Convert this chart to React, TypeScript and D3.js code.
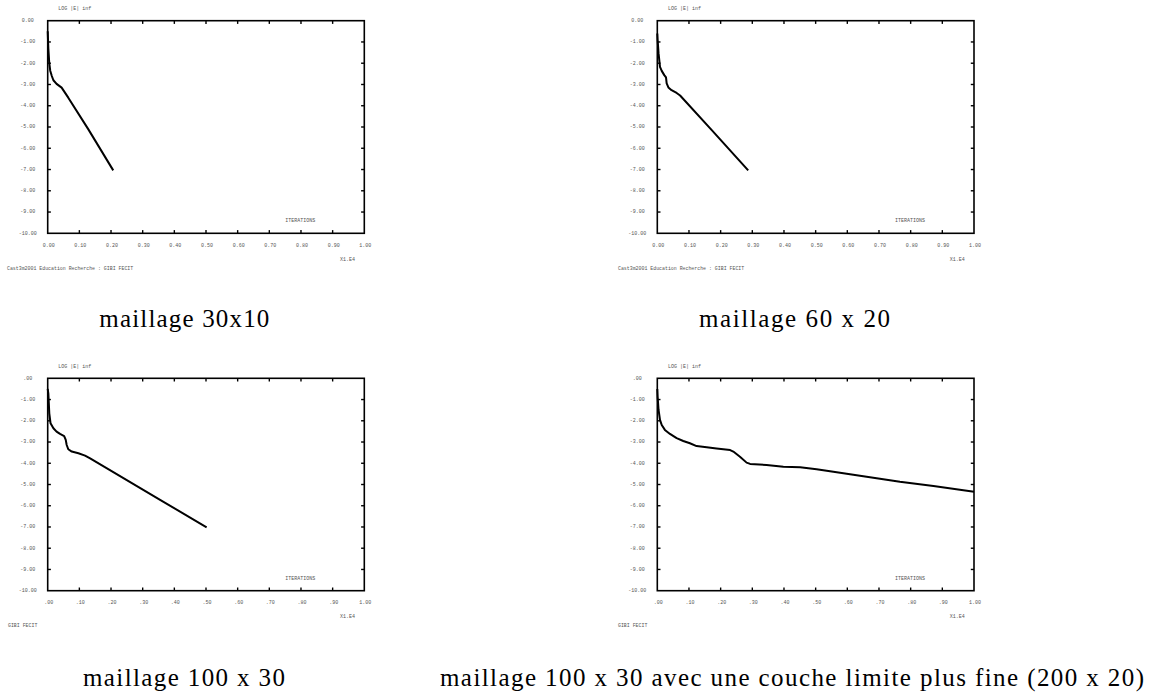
import React from "react";
import * as d3 from "d3";

// ---- data ----
const mesh30x10X = [0, 0.002, 0.005, 0.008, 0.013, 0.018, 0.028, 0.044, 0.065, 0.128, 0.207];
const mesh30x10Y = [-0.5, -1.3, -2.0, -2.35, -2.6, -2.8, -2.97, -3.15, -3.62, -5.1, -7.04];

const mesh60x20X = [0, 0.001, 0.004, 0.0085, 0.014, 0.022, 0.0275, 0.0296, 0.035, 0.045, 0.061, 0.072, 0.172, 0.287];
const mesh60x20Y = [-0.6, -0.9, -1.54, -2.17, -2.36, -2.56, -2.67, -2.95, -3.14, -3.27, -3.4, -3.52, -5.15, -7.04];

const mesh100x30X = [0, 0.002, 0.005, 0.009, 0.018, 0.028, 0.039, 0.052, 0.057, 0.06, 0.065, 0.076, 0.097, 0.118, 0.134, 0.355, 0.502];
const mesh100x30Y = [-0.5, -0.71, -1.65, -2.12, -2.35, -2.51, -2.62, -2.72, -2.9, -3.14, -3.34, -3.45, -3.53, -3.64, -3.77, -5.72, -7.02];

const meshFineX = [0, 0.001, 0.004, 0.0085, 0.014, 0.024, 0.04, 0.061, 0.082, 0.103, 0.124, 0.156, 0.187, 0.23, 0.24, 0.261, 0.282, 0.293, 0.345, 0.398, 0.451, 0.503, 0.556, 0.661, 0.766, 0.872, 1.0];
const meshFineY = [-0.5, -0.86, -1.49, -1.96, -2.2, -2.43, -2.62, -2.82, -2.95, -3.06, -3.19, -3.25, -3.3, -3.38, -3.45, -3.69, -3.97, -4.03, -4.08, -4.16, -4.19, -4.28, -4.4, -4.63, -4.87, -5.07, -5.34];

const xTicks = [0, 0.1, 0.2, 0.3, 0.4, 0.5, 0.6, 0.7, 0.8, 0.9, 1.0];
const yTicks = [0, -1, -2, -3, -4, -5, -6, -7, -8, -9, -10];
const xTickLabelsTop = ["0.00", "0.10", "0.20", "0.30", "0.40", "0.50", "0.60", "0.70", "0.80", "0.90", "1.00"];
const xTickLabelsBottom = [".00", ".10", ".20", ".30", ".40", ".50", ".60", ".70", ".80", ".90", "1.00"];
const yTickLabelsTop = ["0.00", "-1.00", "-2.00", "-3.00", "-4.00", "-5.00", "-6.00", "-7.00", "-8.00", "-9.00", "-10.00"];
const yTickLabelsBottom = [".00", "-1.00", "-2.00", "-3.00", "-4.00", "-5.00", "-6.00", "-7.00", "-8.00", "-9.00", "-10.00"];

const captions = [
  "maillage 30x10",
  "maillage 60 x 20",
  "maillage 100 x 30",
  "maillage 100 x 30 avec une couche limite plus fine (200 x 20)",
];
const footers = ["Cast3m2001 Education Recherche : GIBI FECIT", "Cast3m2001 Education Recherche : GIBI FECIT", "GIBI FECIT", "GIBI FECIT"];

const W = 1154;
const H = 692;
const MONO = "'Liberation Mono', 'DejaVu Sans Mono', monospace";
const SERIF = "'Liberation Serif', 'Times New Roman', serif";
const TXT = "#555";

type PanelDef = {
  x0: number; x1: number; y0: number; y1: number;
  xs: number[]; ys: number[];
  xLabels: string[]; yLabels: string[];
  footer: string; footerX: number;
  caption: string; capX: number; capY: number; capW: number;
};

const panels: PanelDef[] = [
  { x0: 47.7, x1: 364.3, y0: 20.7, y1: 233.3, xs: mesh30x10X, ys: mesh30x10Y, xLabels: xTickLabelsTop, yLabels: yTickLabelsTop, footer: footers[0], footerX: 7, caption: captions[0], capX: 99.3, capY: 327, capW: 170 },
  { x0: 657.3, x1: 974, y0: 20.7, y1: 233.3, xs: mesh60x20X, ys: mesh60x20Y, xLabels: xTickLabelsTop, yLabels: yTickLabelsTop, footer: footers[1], footerX: 618, caption: captions[1], capX: 699, capY: 327, capW: 191 },
  { x0: 47.7, x1: 364.3, y0: 378.3, y1: 590.7, xs: mesh100x30X, ys: mesh100x30Y, xLabels: xTickLabelsBottom, yLabels: yTickLabelsBottom, footer: footers[2], footerX: 8, caption: captions[2], capX: 83, capY: 686, capW: 202 },
  { x0: 657.3, x1: 974, y0: 378.3, y1: 590.7, xs: meshFineX, ys: meshFineY, xLabels: xTickLabelsBottom, yLabels: yTickLabelsBottom, footer: footers[3], footerX: 618, caption: captions[3], capX: 440, capY: 686, capW: 704 },
];

function Panel({ p }: { p: PanelDef }) {
  const x = d3.scaleLinear().domain([0, 1]).range([p.x0, p.x1]);
  const y = d3.scaleLinear().domain([0, -10]).range([p.y0, p.y1]);
  const pts: [number, number][] = p.xs.map((v, i) => [v, p.ys[i]]);
  const line = d3
    .line<[number, number]>()
    .x((d) => x(d[0]))
    .y((d) => y(d[1]))
    .curve(d3.curveLinear);
  const tl = 3.2;
  const fs = 5;
  return (
    <g>
      <text x={p.x0 + 10.6} y={p.y0 - 12} fontFamily={MONO} fontSize={fs} fill={TXT} dominantBaseline="middle">
        LOG |E| inf
      </text>
      <rect x={p.x0} y={p.y0} width={p.x1 - p.x0} height={p.y1 - p.y0} fill="none" stroke="#000" strokeWidth={1.6} />
      {xTicks.slice(1, -1).map((t) => (
        <g key={"xt" + t}>
          <line x1={x(t)} x2={x(t)} y1={p.y0} y2={p.y0 + tl} stroke="#000" strokeWidth={1.4} />
          <line x1={x(t)} x2={x(t)} y1={p.y1} y2={p.y1 - tl} stroke="#000" strokeWidth={1.4} />
        </g>
      ))}
      {yTicks.slice(1, -1).map((t) => (
        <g key={"yt" + t}>
          <line x1={p.x0} x2={p.x0 + tl} y1={y(t)} y2={y(t)} stroke="#000" strokeWidth={1.4} />
          <line x1={p.x1} x2={p.x1 - tl} y1={y(t)} y2={y(t)} stroke="#000" strokeWidth={1.4} />
        </g>
      ))}
      {xTicks.map((t, i) => (
        <text key={"xl" + t} x={x(t) + 1} y={p.y1 + 12} fontFamily={MONO} fontSize={fs} fill={TXT} textAnchor="middle" dominantBaseline="middle">
          {p.xLabels[i]}
        </text>
      ))}
      {yTicks.map((t, i) => (
        <text key={"yl" + t} x={p.x0 - 20} y={y(t)} fontFamily={MONO} fontSize={fs} fill={TXT} textAnchor="middle" dominantBaseline="middle">
          {p.yLabels[i]}
        </text>
      ))}
      <text x={p.x1 - 79} y={p.y1 - 12.3} fontFamily={MONO} fontSize={fs} fill={TXT} dominantBaseline="middle">
        ITERATIONS
      </text>
      <text x={p.x1 - 24.3} y={p.y1 + 26} fontFamily={MONO} fontSize={fs} fill={TXT} dominantBaseline="middle">
        X1.E4
      </text>
      <text x={p.footerX} y={p.y1 + 35} fontFamily={MONO} fontSize={4.9} fill={TXT} dominantBaseline="middle">
        {p.footer}
      </text>
      <path d={line(pts) || ""} fill="none" stroke="#000" strokeWidth={2} strokeLinejoin="round" />
      <text x={p.capX} y={p.capY} fontFamily={SERIF} fontSize={25} fill="#000" textLength={p.capW} lengthAdjust="spacing">
        {p.caption}
      </text>
    </g>
  );
}

export default function App() {
  return (
    <svg
      width={W}
      height={H}
      viewBox={`0 0 ${W} ${H}`}
      style={{ position: "absolute", left: 0, top: 0, background: "#fff" }}
    >
      <rect x={0} y={0} width={W} height={H} fill="#fff" />
      {panels.map((p, i) => (
        <Panel key={i} p={p} />
      ))}
    </svg>
  );
}
